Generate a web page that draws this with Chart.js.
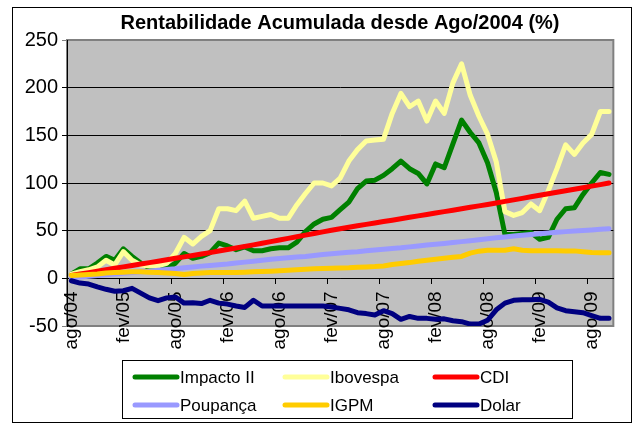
<!DOCTYPE html>
<html>
<head>
<meta charset="utf-8">
<script src="https://cdn.jsdelivr.net/npm/chart.js@4.4.1/dist/chart.umd.min.js"></script>
<style>
html,body{margin:0;padding:0;background:#fff;}
#wrap{width:640px;height:423px;position:relative;}
</style>
</head>
<body>
<div id="wrap"><canvas id="c" width="640" height="423"></canvas></div>
<script>
const titleText = 'Rentabilidade Acumulada desde Ago/2004 (%)';
const categories = ['ago/04','set/04','out/04','nov/04','dez/04','jan/05','fev/05','mar/05','abr/05','mai/05','jun/05','jul/05',
  'ago/05','set/05','out/05','nov/05','dez/05','jan/06','fev/06','mar/06','abr/06','mai/06','jun/06','jul/06',
  'ago/06','set/06','out/06','nov/06','dez/06','jan/07','fev/07','mar/07','abr/07','mai/07','jun/07','jul/07',
  'ago/07','set/07','out/07','nov/07','dez/07','jan/08','fev/08','mar/08','abr/08','mai/08','jun/08','jul/08',
  'ago/08','set/08','out/08','nov/08','dez/08','jan/09','fev/09','mar/09','abr/09','mai/09','jun/09','jul/09',
  'ago/09','set/09','out/09'];
const seriesNames = ['Impacto II','Ibovespa','CDI','Poupança','IGPM','Dolar'];
const impacto = [4.5,10,10,16,23,19,31,23,16,11, 10,10,16,26,21,23,27,37,34,30,
  33,29,29,31,32,32,38,49,57,62, 64,72,80,94,102,103,108,115,123,115,
  110,99,120,116,141,166,153,142,121,90, 46,46,47,48,41,43,62,73,74,88, 100,111,109];
const ibovespa = [4.5,7,9,12,19,14,28,19,14,13, 13,16,26,43,36,44,50,73,73,71,
  81,63,65,67,63,63,77,89,100,100, 97,105,123,135,144,145,146,173,194,180,
  186,165,186,173,205,225,192,170,151,122, 70,66,69,78,71,92,115,140,130,142, 151,175,175];
const cdi = [3,4.6,6,7.5,9,10.5,12,13.5,15,16.5, 18,19.5,21,22.5,24,25.5,27,28.6,30.2,31.8,
  33.5,35.1,36.8,38.5,40.2,41.9,43.6,45.3,47,48.7, 50.4,52,53.6,55.1,56.6,58.1,59.6,61,62.5,64,
  65.5,67,68.5,70,71.5,73,74.5,76,77.5,79.1, 80.7,82.3,83.9,85.5,87.1,88.7,90.3,91.9,93.5,95.1, 96.7,98.3,100];
const poupanca = [0.7,1.5,2.3,3,3.8,4.5,5.3,6,6.8,7.5, 8.5,9.3,10,11,12,12.8,13.5,14.3,15,16,
  17,18,19,20,20.8,21.5,22.3,23,24,25, 25.7,26.5,27.3,28,29,29.8,30.5,31.3,32,33,
  34,35,35.7,36.5,37.5,38.5,39.5,40.5,41.5,42.5, 43.3,44.3,45.2,46,46.8,47.6,48.3,49,49.6,50.2, 50.8,51.4,52];
const igpm = [3,3.5,4,4.5,5.5,6,6.5,7,7,6.5, 6,5.5,5,4,5,5.5,6,6,6,6.2,
  6.5,7,7.2,7.5,8,8.5,9,9.5,10,10.3, 10.5,10.8,11,11.5,12,12.3,13,14.5,15.6,16.5,
  18,19,20,21,22,23,26.5,28.5,29.5,29.5, 29.5,31,29.5,29,29,29,29,28.8,28.8,28, 27,26.8,26.8];
const dolar = [-2.5,-5,-6,-9,-11.5,-13.5,-13,-10.5,-15.5,-20.5, -23.5,-20.5,-19.5,-26,-25.5,-26.5,-23,-26,-27,-29,
  -30.5,-23,-29,-29,-29,-29,-29,-29,-29,-29, -30,-31.5,-33,-36,-37,-38.5,-34,-37,-43,-40,
  -42,-42,-43,-42.5,-44.5,-45.5,-48,-48,-44,-33, -26,-23,-22.5,-22.5,-22,-25,-31,-34,-35,-36, -39,-42,-42];
const yMin = -50, yMax = 250, yStep = 50;
const labelEvery = 6;

const colors = ['#008000','#FFFF99','#FF0000','#9999FF','#FFCC00','#000080'];
const values = [impacto, ibovespa, cdi, poupanca, igpm, dolar];
const FONT = "'Liberation Sans', Arial, sans-serif";

const datasets = seriesNames.map((n,i)=>({
  label:n, data:values[i], borderColor:colors[i], backgroundColor:colors[i],
  borderWidth:5, pointRadius:0, tension:0, fill:false,
  borderJoinStyle:'round', borderCapStyle:'round', order: seriesNames.length - i
}));

const framePlugin = {
  id:'frame',
  beforeDraw(chart){
    const c = chart.ctx, a = chart.chartArea;
    c.save();
    c.fillStyle = '#fff'; c.fillRect(0,0,chart.width,chart.height);
    c.strokeStyle = '#000'; c.lineWidth = 1;
    c.strokeRect(12.5, 7.5, 619, 415);
    c.fillStyle = '#C0C0C0';
    c.fillRect(a.left, a.top, a.right-a.left, a.bottom-a.top);
    c.strokeStyle = '#808080'; c.lineWidth = 2;
    c.strokeRect(a.left, a.top, a.right-a.left, a.bottom-a.top);
    c.restore();
  },
  afterDraw(chart){
    const c = chart.ctx;
    c.save();
    c.fillStyle = '#000';
    c.font = "bold 20px " + FONT;
    c.textAlign = 'center'; c.textBaseline = 'middle';
    c.fillText(titleText, 340, 23);
    // legend
    const bx = 122, by = 360, bw = 450, bh = 58;
    c.fillStyle = '#fff'; c.fillRect(bx, by, bw, bh);
    c.strokeStyle = '#000'; c.lineWidth = 1;
    c.strokeRect(bx+0.5, by+0.5, bw, bh);
    c.font = "17px " + FONT; c.textAlign = 'left'; c.textBaseline = 'middle';
    chart.data.datasets.forEach((ds,i)=>{
      const col = i % 3, row = Math.floor(i/3);
      const x0 = 135 + col*150, y0 = 377 + row*28;
      c.strokeStyle = ds.borderColor; c.lineWidth = 5; c.lineCap = 'round';
      c.beginPath(); c.moveTo(x0, y0); c.lineTo(x0+42, y0); c.stroke();
      c.fillStyle = '#000';
      c.fillText(ds.label, x0+45, y0+1);
    });
    c.restore();
  }
};

new Chart(document.getElementById('c'), {
  type:'line',
  data:{ labels:categories, datasets },
  options:{
    responsive:false, animation:false,
    layout:{ padding:{ left:0, right:24, top:40, bottom:97 } },
    plugins:{ legend:{display:false}, title:{display:false}, tooltip:{enabled:false} },
    scales:{
      x:{
        type:'category', offset:true, position:{ y:0 },
        grid:{ display:true, drawOnChartArea:false, drawTicks:true, tickLength:5, offset:true,
          color:(ctx)=> (ctx.index % labelEvery === 0 ? '#000' : 'rgba(0,0,0,0)') },
        border:{ display:true, color:'#000', width:1 },
        ticks:{ autoSkip:false, minRotation:90, maxRotation:90, padding:8, color:'#000',
          font:{ family:FONT, size:19 },
          callback:function(v, i){ return i % labelEvery === 0 ? categories[i] : ''; } }
      },
      y:{
        min:yMin, max:yMax,
        grid:{ color:(ctx)=> (ctx.tick && (ctx.tick.value === yMax || ctx.tick.value === yMin) ? '#808080' : '#000'), lineWidth:1, drawTicks:true, tickLength:5 },
        border:{ display:true, color:'#000', width:1 },
        ticks:{ stepSize:yStep, padding:4, color:'#000', font:{ family:FONT, size:20 } },
        afterFit:(s)=>{ s.width = 67; }
      }
    }
  },
  plugins:[framePlugin]
});
</script>
</body>
</html>
